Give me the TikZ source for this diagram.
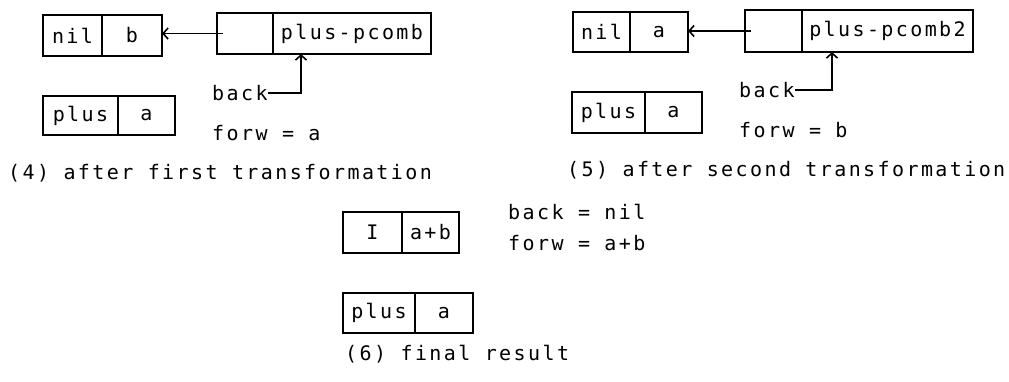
\documentclass[tikz,border=0pt]{standalone}
\usepackage{fontspec}
\newfontfamily\plotfont{DejaVu Sans Mono}[LetterSpace=12]
\usepackage{tikz}
\usetikzlibrary{arrows.meta,positioning}
\tikzstyle{cell} = [rectangle, draw, line width=1.8pt, inner sep=0pt, outer sep=0pt, minimum height=41pt, font=\plotfont\fontsize{20}{22}\selectfont]
\tikzstyle{lbl} = [anchor=west, inner sep=0pt, font=\plotfont\fontsize{20}{22}\selectfont]
\tikzstyle{ptr} = [line width=1.6pt, -{Straight Barb[length=5pt, width=11pt]}]

\begin{document}
\begin{tikzpicture}[x=1pt, y=-1pt]
\useasboundingbox (0,0) rectangle (1009,381);

% (4) after first transformation
\node[cell, anchor=north west, minimum width=59pt] (nil4) at (43,15) {nil};
\node[cell, right=0pt of nil4, minimum width=60pt] (b4) {b};
\node[cell, anchor=north west, minimum width=56pt] (e4) at (217,13) {};
\node[cell, right=0pt of e4, minimum width=158pt] (pc4) {plus-pcomb};
\node[cell, anchor=north west, minimum width=75pt, minimum height=39pt] (plus4) at (43,96) {plus};
\node[cell, right=0pt of plus4, minimum width=57pt, minimum height=39pt] (a4) {a};
\node[lbl] (back4) at (212,93) {back};
\node[lbl] (forw4) at (212,133) {forw = a};
\node[lbl] (cap4) at (8,173) {(4) after first transformation};
\draw[ptr] ([xshift=6pt]e4.west) -- (b4.east |- e4.west);
\draw[ptr] (back4.east) -| ([xshift=28pt]pc4.south west);

% (5) after second transformation
\node[cell, anchor=north west, minimum width=57pt, minimum height=40pt] (nil5) at (573,12) {nil};
\node[cell, right=0pt of nil5, minimum width=58pt, minimum height=40pt] (a5) {a};
\node[cell, anchor=north west, minimum width=57pt, minimum height=42pt] (e5) at (745,10) {};
\node[cell, right=0pt of e5, minimum width=171pt, minimum height=42pt] (pc5) {plus-pcomb2};
\node[cell, anchor=north west, minimum width=73pt] (plus5) at (572,92) {plus};
\node[cell, right=0pt of plus5, minimum width=57pt] (aa5) {a};
\node[lbl] (back5) at (739,90) {back};
\node[lbl] (forw5) at (739,130) {forw = b};
\node[lbl] (cap5) at (567,170) {(5) after second transformation};
\draw[ptr] ([xshift=6pt]e5.west) -- (a5.east |- e5.west);
\draw[ptr] (back5.east) -| ([xshift=30pt]pc5.south west);

% (6) final result
\node[cell, anchor=north west, minimum width=59pt] (i6) at (343,212) {I};
\node[cell, right=0pt of i6, minimum width=57pt] (ab6) {a+b};
\node[cell, anchor=north west, minimum width=72pt, minimum height=40pt] (plus6) at (343,293) {plus};
\node[cell, right=0pt of plus6, minimum width=58pt, minimum height=40pt] (a6) {a};
\node[lbl] (back6) at (508,212) {back = nil};
\node[lbl] (forw6) at (508,243) {forw = a+b};
\node[lbl] (cap6) at (345,354) {(6) final result};
\end{tikzpicture}
\end{document}
